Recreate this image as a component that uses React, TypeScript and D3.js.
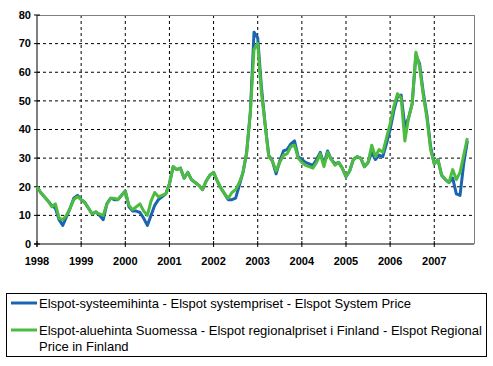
import React from 'react';
import * as d3 from 'd3';

// monthly Elspot prices, Jan 1998 .. Oct 2007 (EUR/MWh)
const startYear = 1998;
const systemPrice = [
  20, 18, 16.5, 15, 13.5, 12.5, 8.5, 6.5, 9.5, 12.5, 16, 17,
  15.5, 14.5, 12.5, 10.5, 11.2, 10, 8.5, 14, 16, 15.5, 15.5, 17,
  18.5, 13, 11.5, 11.5, 11, 9, 6.5, 10, 13.5, 15.5, 16.5, 17.5,
  21, 27, 26, 26.5, 23, 25, 22.5, 21.5, 20.5, 19, 22, 24,
  25, 22, 19.5, 17.5, 15.5, 15.5, 16, 20.5, 25, 32, 46, 74,
  72, 55, 42, 31, 29, 24.5, 29, 32.5, 33, 35, 36, 30.5,
  29.5, 28.5, 28, 27.5, 29.5, 32, 28, 32.5, 29.5, 28, 28.5, 26.5,
  23.5, 25.5, 29.5, 30.5, 30, 27, 28.5, 32, 29.5, 31, 30.5, 35,
  40, 46.5, 51.5, 52, 41, 44, 49, 66, 63, 53, 45, 34,
  28, 29.5, 24, 22.5, 21.5, 23, 17.5, 17, 28, 36,
];
const finlandPrice = [
  20, 18, 16.5, 15, 13, 14, 9, 8.5, 10, 12.5, 15.5, 16.5,
  15.5, 14.5, 12.5, 10.5, 11.2, 10.5, 10, 14, 16, 16, 15.5, 17,
  18.5, 13.5, 12, 13, 14, 11.5, 10, 15, 18, 16.5, 17, 17.5,
  21, 27, 26, 26.5, 23, 25, 22.5, 21.5, 20.5, 19, 22, 24,
  25, 22, 19.5, 17.5, 16, 18, 19, 21.5, 25, 32, 46, 68,
  70, 53, 42, 30.5, 29, 25.5, 28.5, 31, 31.5, 34, 34.5, 30,
  28.5, 27.5, 27, 26.5, 28.5, 31.5, 27, 32, 29.5, 27.5, 28.5, 26.5,
  23.5, 25.5, 29.5, 30.5, 30, 27, 28.5, 34.5, 30.5, 33, 32, 37,
  42, 48, 52.5, 51, 36, 44, 49, 67, 62, 52, 44, 33,
  28, 29.5, 24, 22.5, 21.5, 26, 22.5, 25, 31, 37,
];
const yearTicks = [1998, 1999, 2000, 2001, 2002, 2003, 2004, 2005, 2006, 2007];
const valueTicks = [0, 10, 20, 30, 40, 50, 60, 70, 80];
const seriesNames = [
  ['Elspot-systeemihinta - Elspot systempriset - Elspot System Price'],
  ['Elspot-aluehinta Suomessa - Elspot regionalpriset i Finland - Elspot Regional', 'Price in Finland'],
];

const W = 493;
const H = 366;
const left = 37, right = 474, top = 15, bottom = 244;
const BLUE = '#1c64b0';
const GREEN = '#4cbc3f';

export default function App() {
  const x = d3.scaleLinear().domain([1998, 2007.9]).range([left, right]);
  const y = d3.scaleLinear().domain([0, 80]).range([bottom, top]);

  const line = d3.line<number>()
    .x((d, i) => x(startYear + i / 12))
    .y(d => y(d));

  const axisFont = { fontFamily: '"Liberation Sans", Arial, sans-serif', fontWeight: 'bold', fontSize: 11 };

  return (
    <svg width={W} height={H} style={{ position: 'absolute', left: 0, top: 0, background: '#fff' }}>
      {/* horizontal grid */}
      {valueTicks.filter(v => v > 0 && v < 80).map(v => (
        <line key={'h' + v} x1={left} x2={right} y1={y(v)} y2={y(v)}
          stroke="#000" strokeWidth={1} strokeDasharray="3,3" />
      ))}
      {/* vertical grid */}
      {yearTicks.filter(t => t > 1998).map(t => (
        <line key={'v' + t} x1={x(t)} x2={x(t)} y1={top} y2={bottom}
          stroke="#000" strokeWidth={1} strokeDasharray="3,3" />
      ))}
      {/* frame */}
      <line x1={left} x2={right} y1={top + 0.5} y2={top + 0.5} stroke="#808080" />
      <line x1={right + 0.5} x2={right + 0.5} y1={top} y2={bottom} stroke="#808080" />
      <line x1={left} x2={left} y1={top} y2={bottom + 3} stroke="#000" />
      <line x1={left - 3} x2={right} y1={bottom} y2={bottom} stroke="#000" />
      {valueTicks.map(v => (
        <g key={'yt' + v}>
          <line x1={left - 3} x2={left + 3} y1={y(v)} y2={y(v)} stroke="#000" />
          <text x={left - 6} y={y(v)} dy="0.35em" textAnchor="end" style={axisFont}>{v}</text>
        </g>
      ))}
      {yearTicks.map(t => (
        <g key={'xt' + t}>
          <line x1={x(t)} x2={x(t)} y1={bottom - 3} y2={bottom + 3} stroke="#000" />
          <text x={x(t)} y={bottom + 21} textAnchor="middle" style={axisFont}>{t}</text>
        </g>
      ))}
      {/* series */}
      <path d={line(systemPrice) || ''} fill="none" stroke={BLUE} strokeWidth={3} strokeLinejoin="round" />
      <path d={line(finlandPrice) || ''} fill="none" stroke={GREEN} strokeWidth={3} strokeLinejoin="round" />
      {/* legend */}
      <rect x={6.5} y={293.5} width={480} height={63} fill="#fff" stroke="#000" />
      {seriesNames.map((lines, k) => {
        const ly = k === 0 ? 303 : 330;
        return (
          <g key={'lg' + k}>
            <line x1={11} x2={37} y1={ly} y2={ly} stroke={k === 0 ? BLUE : GREEN} strokeWidth={3} />
            {lines.map((s, j) => (
              <text key={j} x={39} y={ly + j * 16} dy="0.36em"
                style={{ fontFamily: '"Liberation Sans", Arial, sans-serif', fontSize: 13 }}>{s}</text>
            ))}
          </g>
        );
      })}
    </svg>
  );
}
